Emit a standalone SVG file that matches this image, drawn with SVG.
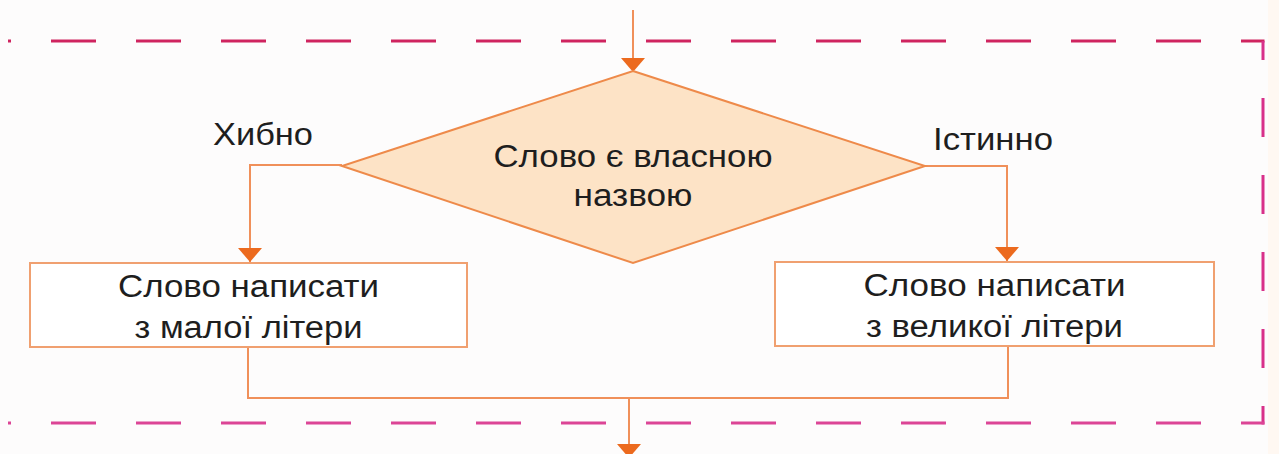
<svg xmlns="http://www.w3.org/2000/svg" width="1279" height="454" viewBox="0 0 1279 454">
  <defs>
    <style>
      .bg { fill: #fdfcfc; }
      .border { fill: none; stroke-width: 3; stroke-linecap: butt; }
      .conn { fill: none; stroke: #f0905a; stroke-width: 2; }
      .box { fill: #ffffff; stroke: #f0a070; stroke-width: 2; }
      .dia { fill: #fde3c6; stroke: #ee8a4a; stroke-width: 2; }
      .t { font-family: "Liberation Sans", Arial, sans-serif; font-size: 31px; fill: #1e1e1e; text-anchor: middle; }
    </style>
    <marker id="arr" viewBox="0 0 14 24" markerWidth="14" markerHeight="24" refX="14" refY="12" orient="auto" markerUnits="userSpaceOnUse">
      <path d="M0,0 L14,12 L0,24 Z" fill="#ec6a1e"/>
    </marker>
  </defs>

  <rect class="bg" x="0" y="0" width="1279" height="454"/>
  <rect x="1268" y="0" width="11" height="454" fill="#fff8f2"/>

  <g id="frame">
    <line class="border" x1="8" y1="41" x2="1264.5" y2="41" stroke="#cf245f" stroke-dasharray="45 40" stroke-dashoffset="42"/>
    <line class="border" x1="1263" y1="41" x2="1263" y2="424.5" stroke="#d8308a" stroke-dasharray="39 38" stroke-dashoffset="20"/>
    <line class="border" x1="8" y1="423" x2="1264.5" y2="423" stroke="#dc4596" stroke-dasharray="45 40" stroke-dashoffset="42"/>
  </g>

  <g id="connectors">
    <line class="conn" x1="633" y1="10" x2="633" y2="72" marker-end="url(#arr)"/>
    <polyline class="conn" points="342,165 250,165 250,262" marker-end="url(#arr)"/>
    <polyline class="conn" points="925,166 1007,166 1007,261" marker-end="url(#arr)"/>
    <polyline class="conn" points="248,347 248,398 1008,398 1008,346"/>
    <line class="conn" x1="629" y1="398" x2="629" y2="458" marker-end="url(#arr)"/>
  </g>

  <g id="decision">
    <polygon class="dia" points="633,71 925,166 633,263 342,166"/>
    <text class="t" x="633" y="167" textLength="279" lengthAdjust="spacingAndGlyphs">Слово є власною</text>
    <text class="t" x="633" y="206" textLength="119" lengthAdjust="spacingAndGlyphs">назвою</text>
  </g>

  <g id="label-false">
    <text class="t" x="263" y="145" textLength="100" lengthAdjust="spacingAndGlyphs">Хибно</text>
  </g>
  <g id="label-true">
    <text class="t" x="993" y="150" textLength="120" lengthAdjust="spacingAndGlyphs">Істинно</text>
  </g>

  <g id="box-lower">
    <rect class="box" x="30" y="263" width="437" height="84"/>
    <text class="t" x="248.5" y="297" textLength="261" lengthAdjust="spacingAndGlyphs">Слово написати</text>
    <text class="t" x="248.5" y="338" textLength="228" lengthAdjust="spacingAndGlyphs">з малої літери</text>
  </g>

  <g id="box-upper">
    <rect class="box" x="775" y="262" width="439" height="84"/>
    <text class="t" x="994.5" y="296" textLength="262" lengthAdjust="spacingAndGlyphs">Слово написати</text>
    <text class="t" x="994.5" y="337" textLength="257" lengthAdjust="spacingAndGlyphs">з великої літери</text>
  </g>
</svg>
